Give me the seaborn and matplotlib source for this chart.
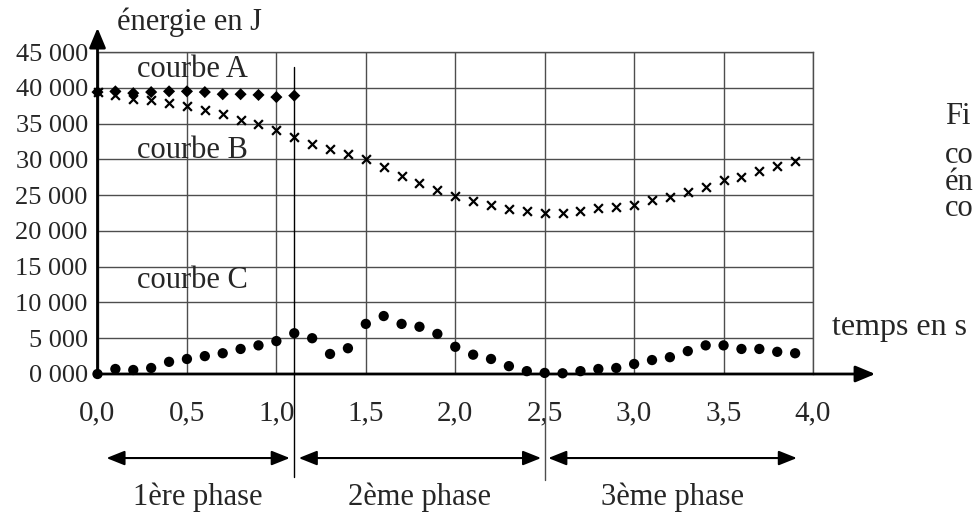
import matplotlib
matplotlib.use("Agg")
import matplotlib.pyplot as plt
import numpy as np
import pandas as pd
import seaborn as sns

# Values (energie en J, one point every 0.1 s)
temps = [0.0, 0.1, 0.2, 0.3, 0.4, 0.5, 0.6, 0.7, 0.8, 0.9,
         1.0, 1.1, 1.2, 1.3, 1.4, 1.5, 1.6, 1.7, 1.8, 1.9,
         2.0, 2.1, 2.2, 2.3, 2.4, 2.5, 2.6, 2.7, 2.8, 2.9,
         3.0, 3.1, 3.2, 3.3, 3.4, 3.5, 3.6, 3.7, 3.8, 3.9]
courbe_A = [39400, 39500, 39250, 39400, 39500, 39500, 39400, 39100, 39100, 39000,
            38700, 38900]
courbe_B = [39400, 39000, 38400, 38300, 37900, 37400, 36900, 36300, 35500, 34900,
            34100, 33100, 32100, 31400, 30700, 30000, 28900, 27700, 26700, 25700,
            24900, 24200, 23600, 23000, 22800, 22500, 22500, 22800, 23200, 23300,
            23600, 24300, 24700, 25400, 26100, 27100, 27600, 28400, 29100, 29800]
courbe_C = [0, 700, 560, 840, 1700, 2100, 2500, 2900, 3500, 4000,
            4600, 5700, 5000, 2800, 3600, 7000, 8100, 7000, 6600, 5600,
            3800, 2700, 2100, 1100, 400, 150, 100, 400, 700, 840,
            1400, 1950, 2350, 3200, 4000, 4000, 3500, 3500, 3100, 2900]

x_ticks = [0.0, 0.5, 1.0, 1.5, 2.0, 2.5, 3.0, 3.5, 4.0]
x_labels = ["0,0", "0,5", "1,0", "1,5", "2,0", "2,5", "3,0", "3,5", "4,0"]
y_ticks = [0, 5000, 10000, 15000, 20000, 25000, 30000, 35000, 40000, 45000]
y_labels = ["0 000", "5 000", "10 000", "15 000", "20 000", "25 000",
            "30 000", "35 000", "40 000", "45 000"]

phase_limits = [0.0, 1.1, 2.5, 3.9]
phase_names = ["1ère phase", "2ème phase", "3ème phase"]

sns.set_style("white")
plt.rcParams["font.family"] = ["Liberation Serif", "DejaVu Serif"]

W, H = 974, 514
fig = plt.figure(figsize=(W / 100, H / 100), dpi=100)
ax = fig.add_axes([97.5 / W, 140 / H, 715.5 / W, 322 / H])

df_a = pd.DataFrame({"t": temps[:len(courbe_A)], "E": courbe_A})
df_b = pd.DataFrame({"t": temps, "E": courbe_B})
df_c = pd.DataFrame({"t": temps, "E": courbe_C})

sns.scatterplot(data=df_b, x="t", y="E", marker="x", s=40, color="black",
                linewidth=1.6, ax=ax, clip_on=False, zorder=3)
sns.scatterplot(data=df_a, x="t", y="E", marker="D", s=38, color="black",
                edgecolor="none", ax=ax, clip_on=False, zorder=4)
sns.scatterplot(data=df_c, x="t", y="E", marker="o", s=55, color="black",
                edgecolor="none", ax=ax, clip_on=False, zorder=4)

ax.set_xlim(0, 4)
ax.set_ylim(0, 45000)
ax.set_xticks(x_ticks)
ax.set_xticklabels(x_labels, fontsize=21)
ax.set_yticks(y_ticks)
ax.set_yticklabels(y_labels, fontsize=19)
ax.tick_params(length=0)
ax.tick_params(axis="x", pad=19)
ax.tick_params(axis="y", pad=7)
ax.grid(True, color="0.3", lw=1)
ax.set_xlabel("")
ax.set_ylabel("")
for side in ["top", "right"]:
    ax.spines[side].set_color("0.3")
    ax.spines[side].set_linewidth(1)
for side in ["left", "bottom"]:
    ax.spines[side].set_visible(False)

# axes drawn as arrows
ax.annotate("", xy=(1.087, 0), xytext=(0, 0), xycoords="axes fraction",
            arrowprops=dict(arrowstyle="-|>,head_length=0.6,head_width=0.25",
                            mutation_scale=20, color="black", lw=2,
                            shrinkA=0, shrinkB=0), annotation_clip=False)
ax.annotate("", xy=(0, 1.075), xytext=(0, 0), xycoords="axes fraction",
            arrowprops=dict(arrowstyle="-|>,head_length=0.6,head_width=0.25",
                            mutation_scale=20, color="black", lw=2,
                            shrinkA=0, shrinkB=0), annotation_clip=False)

# phase separators and double arrows
trans = ax.get_xaxis_transform()
ax.plot([phase_limits[1]] * 2, [-0.32, 0.953], color="black", lw=1,
        transform=trans, clip_on=False)
ax.plot([phase_limits[2]] * 2, [0.0, -0.33], color="0.3", lw=1,
        transform=trans, clip_on=False)
gaps = [(0.05, 0.025), (0.025, 0.02), (0.02, -0.01)]
for i, name in enumerate(phase_names):
    x0 = phase_limits[i] + gaps[i][0]
    x1 = phase_limits[i + 1] - gaps[i][1]
    ax.annotate("", xy=(x1, -0.261), xytext=(x0, -0.261), xycoords=trans,
                arrowprops=dict(arrowstyle="<|-|>,head_length=0.55,head_width=0.22",
                                mutation_scale=20, color="black", lw=1.5,
                                shrinkA=0, shrinkB=0), annotation_clip=False)
    ax.text((x0 + x1) / 2, -0.382, name, transform=trans, ha="center",
            va="center", fontsize=22)


def ftext(x, y, s, size=22, **kw):
    fig.text(x / W, 1 - y / H, s, fontsize=size, va="baseline", **kw)


ftext(117, 30, "énergie en J")
ftext(137, 77, "courbe A")
ftext(137, 158, "courbe B")
ftext(137, 288, "courbe C")
ftext(832, 335, "temps en s", size=23)
ftext(945, 124, "Fi")
ftext(945, 216, "co\nén\nco", linespacing=0.88)

fig.savefig("out.png", dpi=100)
